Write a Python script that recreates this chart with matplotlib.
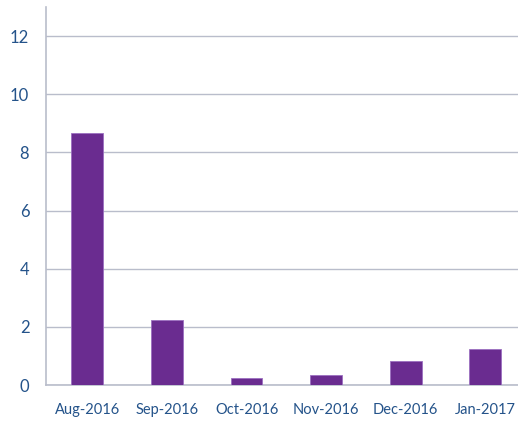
import matplotlib.pyplot as plt

months = ["Aug-2016", "Sep-2016", "Oct-2016", "Nov-2016", "Dec-2016", "Jan-2017"]
values = [8.66, 2.23, 0.25, 0.34, 0.81, 1.24]
y_ticks = [0, 2, 4, 6, 8, 10, 12]

plt.rcParams['font.family'] = ['Lato', 'DejaVu Sans']

fig = plt.figure(figsize=(5.18, 4.23), dpi=100)
ax = fig.add_axes([46 / 518, 1 - 385 / 423, 1 - 46 / 518, (385 - 7) / 423])

grid_col = "#b9bdcb"
ax.bar(range(len(months)), values, width=0.4, color="#6a2c90",
       edgecolor="#9c6fc0", linewidth=0.6, zorder=3)

ax.set_ylim(0, 13.0)
ax.set_xlim(-0.52, 5.41)
ax.set_yticks(y_ticks)
ax.set_xticks(range(len(months)))
ax.set_xticklabels(months)
ax.yaxis.grid(True, color=grid_col, linewidth=1.0, zorder=0)
ax.set_axisbelow(True)

for side in ["top", "right"]:
    ax.spines[side].set_visible(False)
for side in ["left", "bottom"]:
    ax.spines[side].set_color(grid_col)
    ax.spines[side].set_linewidth(1.2)

ax.tick_params(axis="x", length=0, labelsize=10.5, colors="#24538a", pad=13)
ax.tick_params(axis="y", length=0, labelsize=12, colors="#24538a", pad=12)

fig.savefig("out.png", dpi=100)
